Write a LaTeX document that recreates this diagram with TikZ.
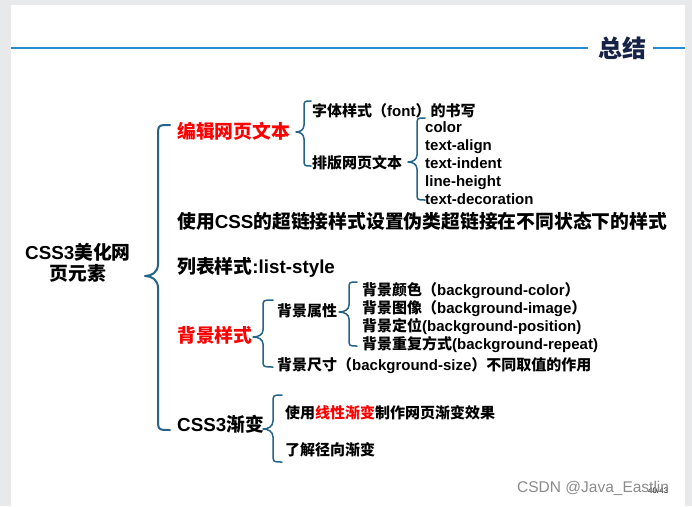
\documentclass[tikz,border=0pt]{standalone}
\usepackage{fontspec}
\setmainfont{Liberation Sans}
\newfontfamily\cjkfont{Noto Sans CJK SC}
\newcommand\zh[1]{{\cjkfont #1}}
\definecolor{braceblue}{RGB}{38,100,135}
\definecolor{lineblue}{RGB}{40,140,210}
\definecolor{headnavy}{RGB}{22,34,70}
\definecolor{framegray}{RGB}{232,233,234}
\definecolor{txtred}{RGB}{255,0,0}
\definecolor{wmgray}{RGB}{140,140,140}
\tikzset{
  bracestyle/.style={draw=braceblue, line width=1.5pt, line cap=round, line join=round},
  lvlone/.style={anchor=west, inner sep=0pt, text height=13.5pt, text depth=0pt, font=\fontsize{18.8}{22}\selectfont\bfseries},
  lvltwo/.style={anchor=west, inner sep=0pt, text height=11pt, text depth=0pt, font=\fontsize{15}{18}\selectfont\bfseries},
}
% #1 xr, #2 xs, #3 xtip, #4 ytop, #5 ytip, #6 ybottom, #7 radius, #8 extra style
\newcommand\curlybrace[8]{%
  \draw[bracestyle,#8] (#1,#4) .. controls (#2,#4) .. (#2,{#4+#7})
    -- (#2,{#5-#7}) .. controls (#2,{#5-0.3*#7}) and ({(#2+#3)/2},#5) .. (#3,#5)
    .. controls ({(#2+#3)/2},#5) and (#2,{#5+0.3*#7}) .. (#2,{#5+#7})
    -- (#2,{#6-#7}) .. controls (#2,#6) .. (#1,#6);}
\begin{document}
\begin{tikzpicture}[x=1pt,y=-1pt]
\useasboundingbox (0,0) rectangle (692,506);
% slide frame
\fill[framegray] (0,0) rectangle (692,506);
\fill[white] (11,5) rectangle (685,506);
% header
\draw[lineblue, line width=2pt] (11,48) -- (588,48);
\draw[lineblue, line width=2pt] (653,48) -- (685,48);
\node[inner sep=0pt, text=headnavy, font=\fontsize{24}{28}\selectfont\bfseries\cjkfont] (head) at (622,48) {总结};
% root
\node[align=center, inner sep=0pt, font=\fontsize{18.8}{21}\selectfont\bfseries] (root) at (78,263) {CSS3\zh{美化网}\\\zh{页元素}};
\curlybrace{170}{158}{145}{125}{276}{430}{12}{line width=2pt}
% level 1
\node[lvlone, text=txtred] (edit) at (177,132) {\zh{编辑网页文本}};
\node[lvlone] (link) at (177,222) {\zh{使用}CSS\zh{的超链接样式设置伪类超链接在不同状态下的样式}};
\node[lvlone] (list) at (177,267) {\zh{列表样式}:list-style};
\node[lvlone, text=txtred] (bg) at (177,336) {\zh{背景样式}};
\node[lvlone] (grad) at (177,425) {CSS3\zh{渐变}};
% edit text branch
\curlybrace{311}{304}{296}{101}{132}{166}{7}{}
\node[lvltwo] (font) at (312,111) {\zh{字体样式（}font\zh{）的书写}};
\node[lvltwo] (layout) at (312,163) {\zh{排版网页文本}};
\curlybrace{425}{417}{408}{118}{162}{200}{7}{}
\node[lvltwo] (c1) at (425,127) {color};
\node[lvltwo] (c2) at (425,145) {text-align};
\node[lvltwo] (c3) at (425,163) {text-indent};
\node[lvltwo] (c4) at (425,181) {line-height};
\node[lvltwo] (c5) at (425,199) {text-decoration};
% background branch
\curlybrace{273}{263}{253}{300}{337}{367}{7}{}
\node[lvltwo] (bgprop) at (277,311) {\zh{背景属性}};
\node[lvltwo] (bgsize) at (277,365) {\zh{背景尺寸（}background-size\zh{）不同取值的作用}};
\curlybrace{357}{349}{339}{282}{312}{346}{7}{}
\node[lvltwo] (b1) at (362,290) {\zh{背景颜色（}background-color\zh{）}};
\node[lvltwo] (b2) at (362,308) {\zh{背景图像（}background-image\zh{）}};
\node[lvltwo] (b3) at (362,326) {\zh{背景定位}(background-position)};
\node[lvltwo] (b4) at (362,344) {\zh{背景重复方式}(background-repeat)};
% gradient branch
\curlybrace{282}{273}{263}{395}{429}{462}{8}{}
\node[lvltwo] (g1) at (285,413) {\zh{使用{\color{txtred}线性渐变}制作网页渐变效果}};
\node[lvltwo] (g2) at (285,450) {\zh{了解径向渐变}};
% footer
\node[anchor=west, inner sep=0pt, font=\fontsize{8}{9}\selectfont] (page) at (648,491) {40/43};
\node[anchor=west, inner sep=0pt, text=wmgray, font=\fontsize{15.5}{18}\selectfont] (wm) at (517,488) {CSDN @Java\_Eastlin};
\end{tikzpicture}
\end{document}
